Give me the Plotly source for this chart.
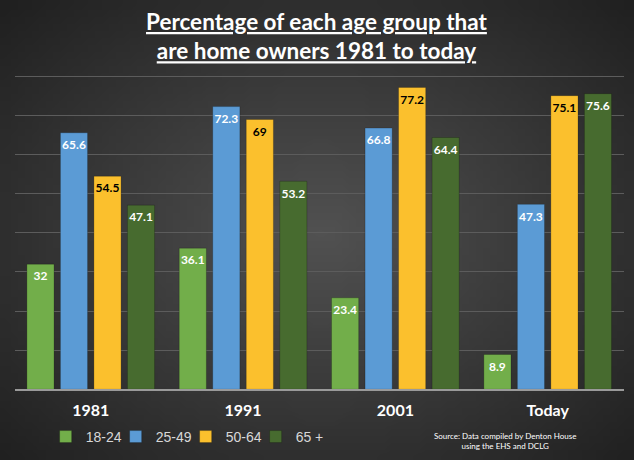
import base64
import struct
import zlib

import numpy as np
import plotly.graph_objects as go

# data
years = ['1981', '1991', '2001', 'Today']
age_18_24 = [32, 36.1, 23.4, 8.9]
age_25_49 = [65.6, 72.3, 66.8, 47.3]
age_50_64 = [54.5, 69, 77.2, 75.1]
age_65_plus = [47.1, 53.2, 64.4, 75.6]

series = [
    ('18-24', age_18_24, '#72AE4A', 'white'),
    ('25-49', age_25_49, '#5B9BD5', 'white'),
    ('50-64', age_50_64, '#FBC02D', 'black'),
    ('65 +', age_65_plus, '#476B2F', 'white'),
]


def radial_png(w, h, inner, outer):
    # small radial gradient image for the dark background
    yy, xx = np.mgrid[0:h, 0:w]
    d = np.sqrt(((xx - w / 2) / (w / 2)) ** 2 + ((yy - h / 2) / (h / 2)) ** 2) / 1.414
    d = np.clip(d, 0, 1)
    rows = b''
    for r in range(h):
        rows += b'\x00'
        for c in range(w):
            t = d[r, c]
            px = [int(inner[i] + (outer[i] - inner[i]) * t) for i in range(3)]
            rows += bytes(px)

    def chunk(tag, data):
        return struct.pack('>I', len(data)) + tag + data + struct.pack('>I', zlib.crc32(tag + data) & 0xffffffff)

    png = b'\x89PNG\r\n\x1a\n'
    png += chunk(b'IHDR', struct.pack('>IIBBBBB', w, h, 8, 2, 0, 0, 0))
    png += chunk(b'IDAT', zlib.compress(rows))
    png += chunk(b'IEND', b'')
    return 'data:image/png;base64,' + base64.b64encode(png).decode()


bg = radial_png(90, 66, (82, 82, 82), (32, 32, 32))

fig = go.Figure()
for name, vals, color, txt in series:
    fig.add_trace(go.Bar(
        x=years, y=vals, name=name, offsetgroup=name,
        marker=dict(color=color, line=dict(color='rgba(0,0,0,0.25)', width=0.8)),
        hoverinfo='x+y',
    ))

# value labels as grouped text traces so they are not shrunk to the bar width
for name, vals, color, txt in series:
    fig.add_trace(go.Scatter(
        x=years, y=vals, offsetgroup=name, mode='markers+text', showlegend=False,
        marker=dict(size=10, opacity=0),
        text=['<b>%s</b>' % v for v in vals], textposition='bottom center',
        textfont=dict(color=txt, size=12, family='Lato'),
        cliponaxis=False, hoverinfo='skip',
    ))

fig.update_layout(
    width=634, height=460,
    margin=dict(l=0, r=0, t=0, b=0, autoexpand=False),
    paper_bgcolor='#3a3a3a', plot_bgcolor='rgba(0,0,0,0)',
    barmode='group', bargap=0.12, bargroupgap=0.19,
    scattermode='group', scattergap=0.12,
    font=dict(family='Lato', color='white'),
    images=[dict(source=bg, xref='paper', yref='paper', x=0, y=1,
                 sizex=1, sizey=1, sizing='stretch', layer='below')],
    xaxis=dict(domain=[0.023, 0.984], showgrid=False,
               showline=True, linecolor='#9a9a9a', linewidth=2,
               tickfont=dict(size=16, color='white', family='Lato', weight='bold'),
               ticklabelstandoff=6, ticks=''),
    yaxis=dict(domain=[0.1537, 0.9187], range=[0, 90], dtick=10,
               showticklabels=False, gridcolor='#5c5c5c', gridwidth=1,
               zeroline=False),
    legend=dict(orientation='h', x=0.072, y=0.05, xanchor='left', yanchor='middle',
                font=dict(size=14, color='#d8d8d8', family='Liberation Sans'),
                itemwidth=30, entrywidth=25, bgcolor='rgba(0,0,0,0)'),
    annotations=[
        dict(text='<b><u>Percentage of each age group that</u><br><u>are home owners 1981 to today</u></b>',
             xref='paper', yref='paper', x=0.5, y=1 - 36 / 460, showarrow=False,
             font=dict(size=22.5, color='white', family='Lato'),
             xanchor='center', yanchor='middle'),
        dict(text='Source: Data compiled by Denton House<br>using the EHS and DCLG',
             xref='paper', yref='paper', x=0.796, y=1 - 441 / 460, showarrow=False,
             font=dict(size=8, color='white', family='Lato'),
             xanchor='center', yanchor='middle'),
    ],
)

# drop the default page margin so the figure sits flush in the window
fig.write_html('out.html', config={'displayModeBar': False},
               post_script="document.body.style.margin='0';")
